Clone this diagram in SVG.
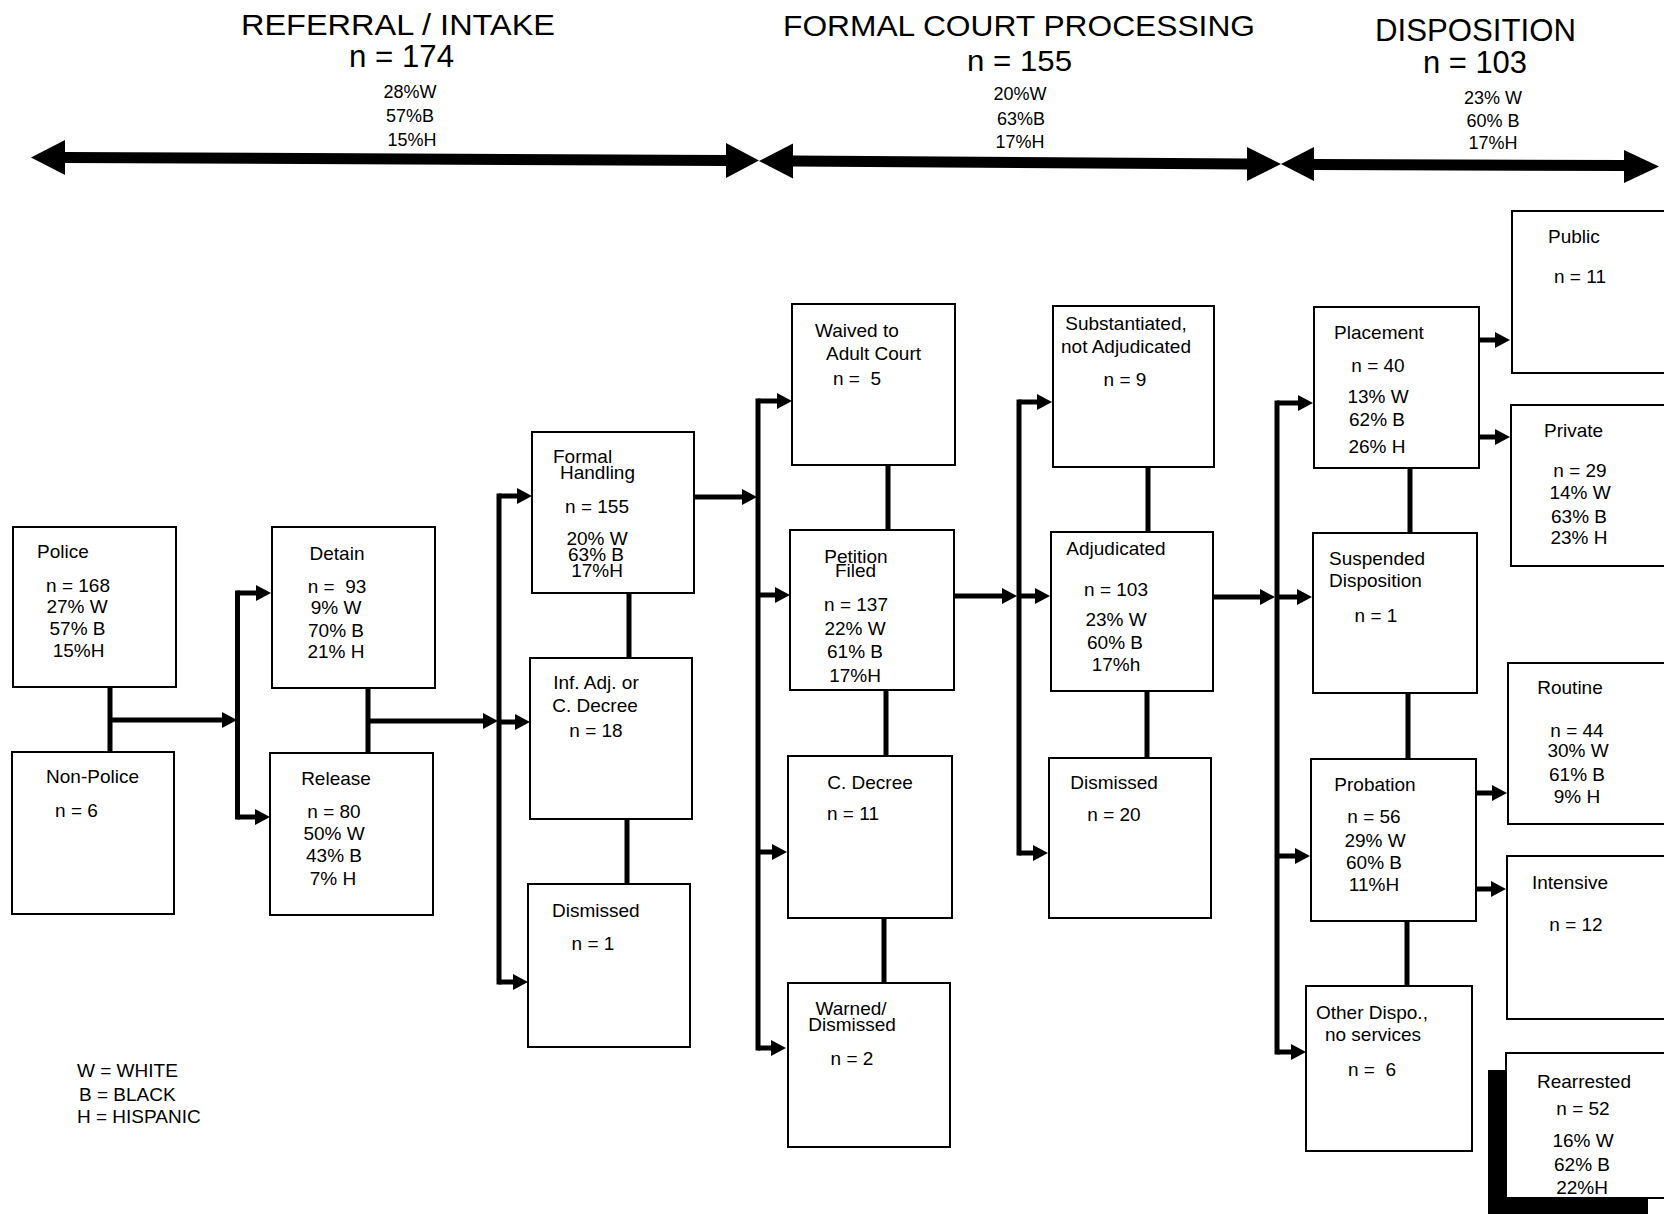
<svg xmlns="http://www.w3.org/2000/svg" width="1664" height="1214" viewBox="0 0 1664 1214">
<defs>
<marker id="ah" markerUnits="userSpaceOnUse" markerWidth="16" markerHeight="16" refX="5" refY="8" orient="auto" viewBox="0 0 16 16">
<path d="M0,0 L15,8 L0,16 Z" fill="#000"/>
</marker>
<style>
.box{fill:#fff;stroke:#000;stroke-width:2}
text{font-family:"Liberation Sans",Arial,sans-serif;font-size:19px;fill:#000}
.c{text-anchor:middle}
.h{font-size:30px}
.p{font-size:18px}
.ln{stroke:#000;stroke-width:5;fill:none;stroke-linecap:square}
.ar{stroke:#000;stroke-width:5;fill:none;marker-end:url(#ah)}
</style>
</defs>
<rect width="1664" height="1214" fill="#fff"/>

<g id="header">
<text x="241" y="35" class="h" textLength="314" lengthAdjust="spacingAndGlyphs">REFERRAL / INTAKE</text>
<text x="349" y="67" style="font-size:31px" textLength="105" lengthAdjust="spacingAndGlyphs">n = 174</text>
<text x="410" y="98" class="p c">28%W</text>
<text x="410" y="122" class="p c">57%B</text>
<text x="412" y="146" class="p c">15%H</text>
<text x="783" y="36" class="h" textLength="472" lengthAdjust="spacingAndGlyphs">FORMAL COURT PROCESSING</text>
<text x="967" y="71" class="h" textLength="105" lengthAdjust="spacingAndGlyphs">n = 155</text>
<text x="1020" y="100" class="p c">20%W</text>
<text x="1021" y="125" class="p c">63%B</text>
<text x="1020" y="148" class="p c">17%H</text>
<text x="1375" y="41" style="font-size:31px" textLength="201" lengthAdjust="spacingAndGlyphs">DISPOSITION</text>
<text x="1423" y="73" style="font-size:31px" textLength="104" lengthAdjust="spacingAndGlyphs">n = 103</text>
<text x="1493" y="104" class="p c">23% W</text>
<text x="1493" y="127" class="p c">60% B</text>
<text x="1493" y="149" class="p c">17%H</text>
</g>

<g id="timeline" fill="#000">
<polygon points="31,157.5 65,140 65,152 726,155 726,143 759,160.5 726,178 726,166 65,163 65,175"/>
<polygon points="759,161 793,143.5 793,155.5 1247,158.5 1247,147 1281,164 1247,181 1247,169.5 793,166.5 793,178.5"/>
<polygon points="1281,164 1314,147 1314,159 1624,160 1624,150 1659,166.5 1624,183 1624,171 1314,170 1314,181"/>
</g>

<g id="connectors">
<line class="ln" x1="110" y1="687" x2="110" y2="751"/>
<line class="ar" x1="110" y1="720" x2="227" y2="720"/>
<line class="ln" x1="237.5" y1="593" x2="237.5" y2="817"/>
<line class="ar" x1="237.5" y1="593" x2="261" y2="593"/>
<line class="ar" x1="237.5" y1="817" x2="260" y2="817"/>

<line class="ln" x1="368" y1="688" x2="368" y2="752"/>
<line class="ar" x1="368" y1="721" x2="488" y2="721"/>
<line class="ln" x1="499" y1="496" x2="499" y2="982"/>
<line class="ar" x1="499" y1="496" x2="522" y2="496"/>
<line class="ar" x1="499" y1="722" x2="520" y2="722"/>
<line class="ar" x1="499" y1="982" x2="518" y2="982"/>

<line class="ln" x1="629" y1="594" x2="629" y2="657"/>
<line class="ln" x1="627" y1="820" x2="627" y2="883"/>
<line class="ar" x1="695" y1="497" x2="747" y2="497"/>
<line class="ln" x1="758" y1="401" x2="758" y2="1048"/>
<line class="ar" x1="758" y1="401" x2="782" y2="401"/>
<line class="ar" x1="758" y1="595" x2="780" y2="595"/>
<line class="ar" x1="758" y1="852" x2="777" y2="852"/>
<line class="ar" x1="758" y1="1048" x2="776" y2="1048"/>

<line class="ln" x1="888" y1="466" x2="888" y2="529"/>
<line class="ln" x1="886" y1="691" x2="886" y2="755"/>
<line class="ln" x1="884" y1="919" x2="884" y2="982"/>
<line class="ar" x1="955" y1="596" x2="1007" y2="596"/>
<line class="ln" x1="1019" y1="402" x2="1019" y2="853"/>
<line class="ar" x1="1019" y1="402" x2="1042" y2="402"/>
<line class="ar" x1="1019" y1="596" x2="1040" y2="596"/>
<line class="ar" x1="1019" y1="853" x2="1038" y2="853"/>

<line class="ln" x1="1148" y1="468" x2="1148" y2="531"/>
<line class="ln" x1="1147" y1="692" x2="1147" y2="757"/>
<line class="ar" x1="1214" y1="597" x2="1265" y2="597"/>
<line class="ln" x1="1277" y1="403" x2="1277" y2="1052"/>
<line class="ar" x1="1277" y1="403" x2="1303" y2="403"/>
<line class="ar" x1="1277" y1="597" x2="1302" y2="597"/>
<line class="ar" x1="1277" y1="856" x2="1300" y2="856"/>
<line class="ar" x1="1277" y1="1052" x2="1296" y2="1052"/>

<line class="ln" x1="1410" y1="469" x2="1410" y2="532"/>
<line class="ln" x1="1408" y1="694" x2="1408" y2="758"/>
<line class="ln" x1="1407" y1="922" x2="1407" y2="985"/>
<line class="ar" x1="1480" y1="340" x2="1500" y2="340"/>
<line class="ar" x1="1480" y1="437" x2="1500" y2="437"/>
<line class="ar" x1="1477" y1="793" x2="1497" y2="793"/>
<line class="ar" x1="1475" y1="889" x2="1496" y2="889"/>
</g>

<g id="police"><rect class="box" x="13" y="527" width="163" height="160"/>
<text x="37" y="558">Police</text>
<text x="78" y="592" class="c">n = 168</text>
<text x="77" y="613" class="c">27% W</text>
<text x="77.5" y="635" class="c">57% B</text>
<text x="78.5" y="657" class="c">15%H</text></g>

<g id="non-police"><rect class="box" x="12" y="752" width="162" height="162"/>
<text x="92.5" y="783" class="c">Non-Police</text>
<text x="76.5" y="817" class="c">n = 6</text></g>

<g id="detain"><rect class="box" x="272" y="527" width="163" height="161"/>
<text x="337" y="560" class="c">Detain</text>
<text x="337" y="593" class="c" xml:space="preserve">n =  93</text>
<text x="336" y="614" class="c">9% W</text>
<text x="336" y="637" class="c">70% B</text>
<text x="336" y="658" class="c">21% H</text></g>

<g id="release"><rect class="box" x="270" y="753" width="163" height="162"/>
<text x="336" y="785" class="c">Release</text>
<text x="334" y="818" class="c">n = 80</text>
<text x="334" y="840" class="c">50% W</text>
<text x="334" y="862" class="c">43% B</text>
<text x="333" y="885" class="c">7% H</text></g>

<g id="formal-handling"><rect class="box" x="532" y="432" width="162" height="161"/>
<text x="553" y="463">Formal</text>
<text x="560" y="479">Handling</text>
<text x="597" y="513" class="c">n = 155</text>
<text x="597" y="545" class="c">20% W</text>
<text x="596" y="561" class="c">63% B</text>
<text x="597" y="577" class="c">17%H</text></g>

<g id="inf-adj"><rect class="box" x="530" y="658" width="162" height="161"/>
<text x="596" y="689" class="c">Inf. Adj. or</text>
<text x="595" y="712" class="c">C. Decree</text>
<text x="596" y="737" class="c">n = 18</text></g>

<g id="dismissed-1"><rect class="box" x="528" y="884" width="162" height="163"/>
<text x="552" y="917">Dismissed</text>
<text x="593" y="950" class="c">n = 1</text></g>

<g id="waived"><rect class="box" x="792" y="304" width="163" height="161"/>
<text x="815" y="337">Waived to</text>
<text x="826" y="360">Adult Court</text>
<text x="833" y="385" xml:space="preserve">n =  5</text></g>

<g id="petition"><rect class="box" x="790" y="530" width="164" height="160"/>
<text x="856" y="563" class="c">Petition</text>
<text x="855.5" y="577" class="c">Filed</text>
<text x="856" y="611" class="c">n = 137</text>
<text x="855" y="635" class="c">22% W</text>
<text x="855" y="658" class="c">61% B</text>
<text x="855" y="682" class="c">17%H</text></g>

<g id="c-decree"><rect class="box" x="788" y="756" width="164" height="162"/>
<text x="870" y="789" class="c">C. Decree</text>
<text x="827" y="820">n = 11</text></g>

<g id="warned"><rect class="box" x="788" y="983" width="162" height="164"/>
<text x="851" y="1015" class="c">Warned/</text>
<text x="852" y="1031" class="c">Dismissed</text>
<text x="852" y="1065" class="c">n = 2</text></g>

<g id="substantiated"><rect class="box" x="1053" y="306" width="161" height="161"/>
<text x="1126" y="330" class="c">Substantiated,</text>
<text x="1126" y="353" class="c">not Adjudicated</text>
<text x="1125" y="386" class="c">n = 9</text></g>

<g id="adjudicated"><rect class="box" x="1051" y="532" width="162" height="159"/>
<text x="1116" y="555" class="c">Adjudicated</text>
<text x="1116" y="596" class="c">n = 103</text>
<text x="1116" y="626" class="c">23% W</text>
<text x="1115" y="649" class="c">60% B</text>
<text x="1116" y="671" class="c">17%h</text></g>

<g id="dismissed-2"><rect class="box" x="1049" y="758" width="162" height="160"/>
<text x="1114" y="789" class="c">Dismissed</text>
<text x="1114" y="821" class="c">n = 20</text></g>

<g id="placement"><rect class="box" x="1314" y="307" width="165" height="161"/>
<text x="1379" y="339" class="c">Placement</text>
<text x="1378" y="372" class="c">n = 40</text>
<text x="1378" y="403" class="c">13% W</text>
<text x="1377" y="426" class="c">62% B</text>
<text x="1377" y="453" class="c">26% H</text></g>

<g id="suspended"><rect class="box" x="1313" y="533" width="164" height="160"/>
<text x="1329" y="565">Suspended</text>
<text x="1329" y="587">Disposition</text>
<text x="1376" y="622" class="c">n = 1</text></g>

<g id="probation"><rect class="box" x="1311" y="759" width="165" height="162"/>
<text x="1375" y="791" class="c">Probation</text>
<text x="1374" y="823" class="c">n = 56</text>
<text x="1375" y="847" class="c">29% W</text>
<text x="1374" y="869" class="c">60% B</text>
<text x="1374" y="891" class="c">11%H</text></g>

<g id="other-dispo"><rect class="box" x="1306" y="986" width="166" height="165"/>
<text x="1316" y="1019">Other Dispo.,</text>
<text x="1373" y="1041" class="c">no services</text>
<text x="1372" y="1076" class="c" xml:space="preserve">n =  6</text></g>

<g id="public"><rect class="box" x="1512" y="211" width="200" height="162"/>
<text x="1548" y="243">Public</text>
<text x="1580" y="283" class="c">n = 11</text></g>

<g id="private"><rect class="box" x="1511" y="405" width="200" height="161"/>
<text x="1544" y="437">Private</text>
<text x="1580" y="477" class="c">n = 29</text>
<text x="1580" y="499" class="c">14% W</text>
<text x="1579" y="523" class="c">63% B</text>
<text x="1579" y="544" class="c">23% H</text></g>

<g id="routine"><rect class="box" x="1508" y="663" width="200" height="161"/>
<text x="1570" y="694" class="c">Routine</text>
<text x="1577" y="737" class="c">n = 44</text>
<text x="1578" y="757" class="c">30% W</text>
<text x="1577" y="781" class="c">61% B</text>
<text x="1577" y="803" class="c">9% H</text></g>

<g id="intensive"><rect class="box" x="1507" y="856" width="200" height="163"/>
<text x="1532" y="889">Intensive</text>
<text x="1576" y="931" class="c">n = 12</text></g>

<g id="rearrested"><rect x="1488" y="1070" width="160" height="150" fill="#000"/>
<rect class="box" x="1506" y="1053" width="200" height="145"/>
<text x="1584" y="1088" class="c">Rearrested</text>
<text x="1583" y="1115" class="c">n = 52</text>
<text x="1583" y="1147" class="c">16% W</text>
<text x="1582" y="1171" class="c">62% B</text>
<text x="1582" y="1194" class="c">22%H</text></g>

<g id="legend">
<text x="77" y="1077">W = WHITE</text>
<text x="79" y="1101">B = BLACK</text>
<text x="77" y="1123">H = HISPANIC</text>
</g>
</svg>
